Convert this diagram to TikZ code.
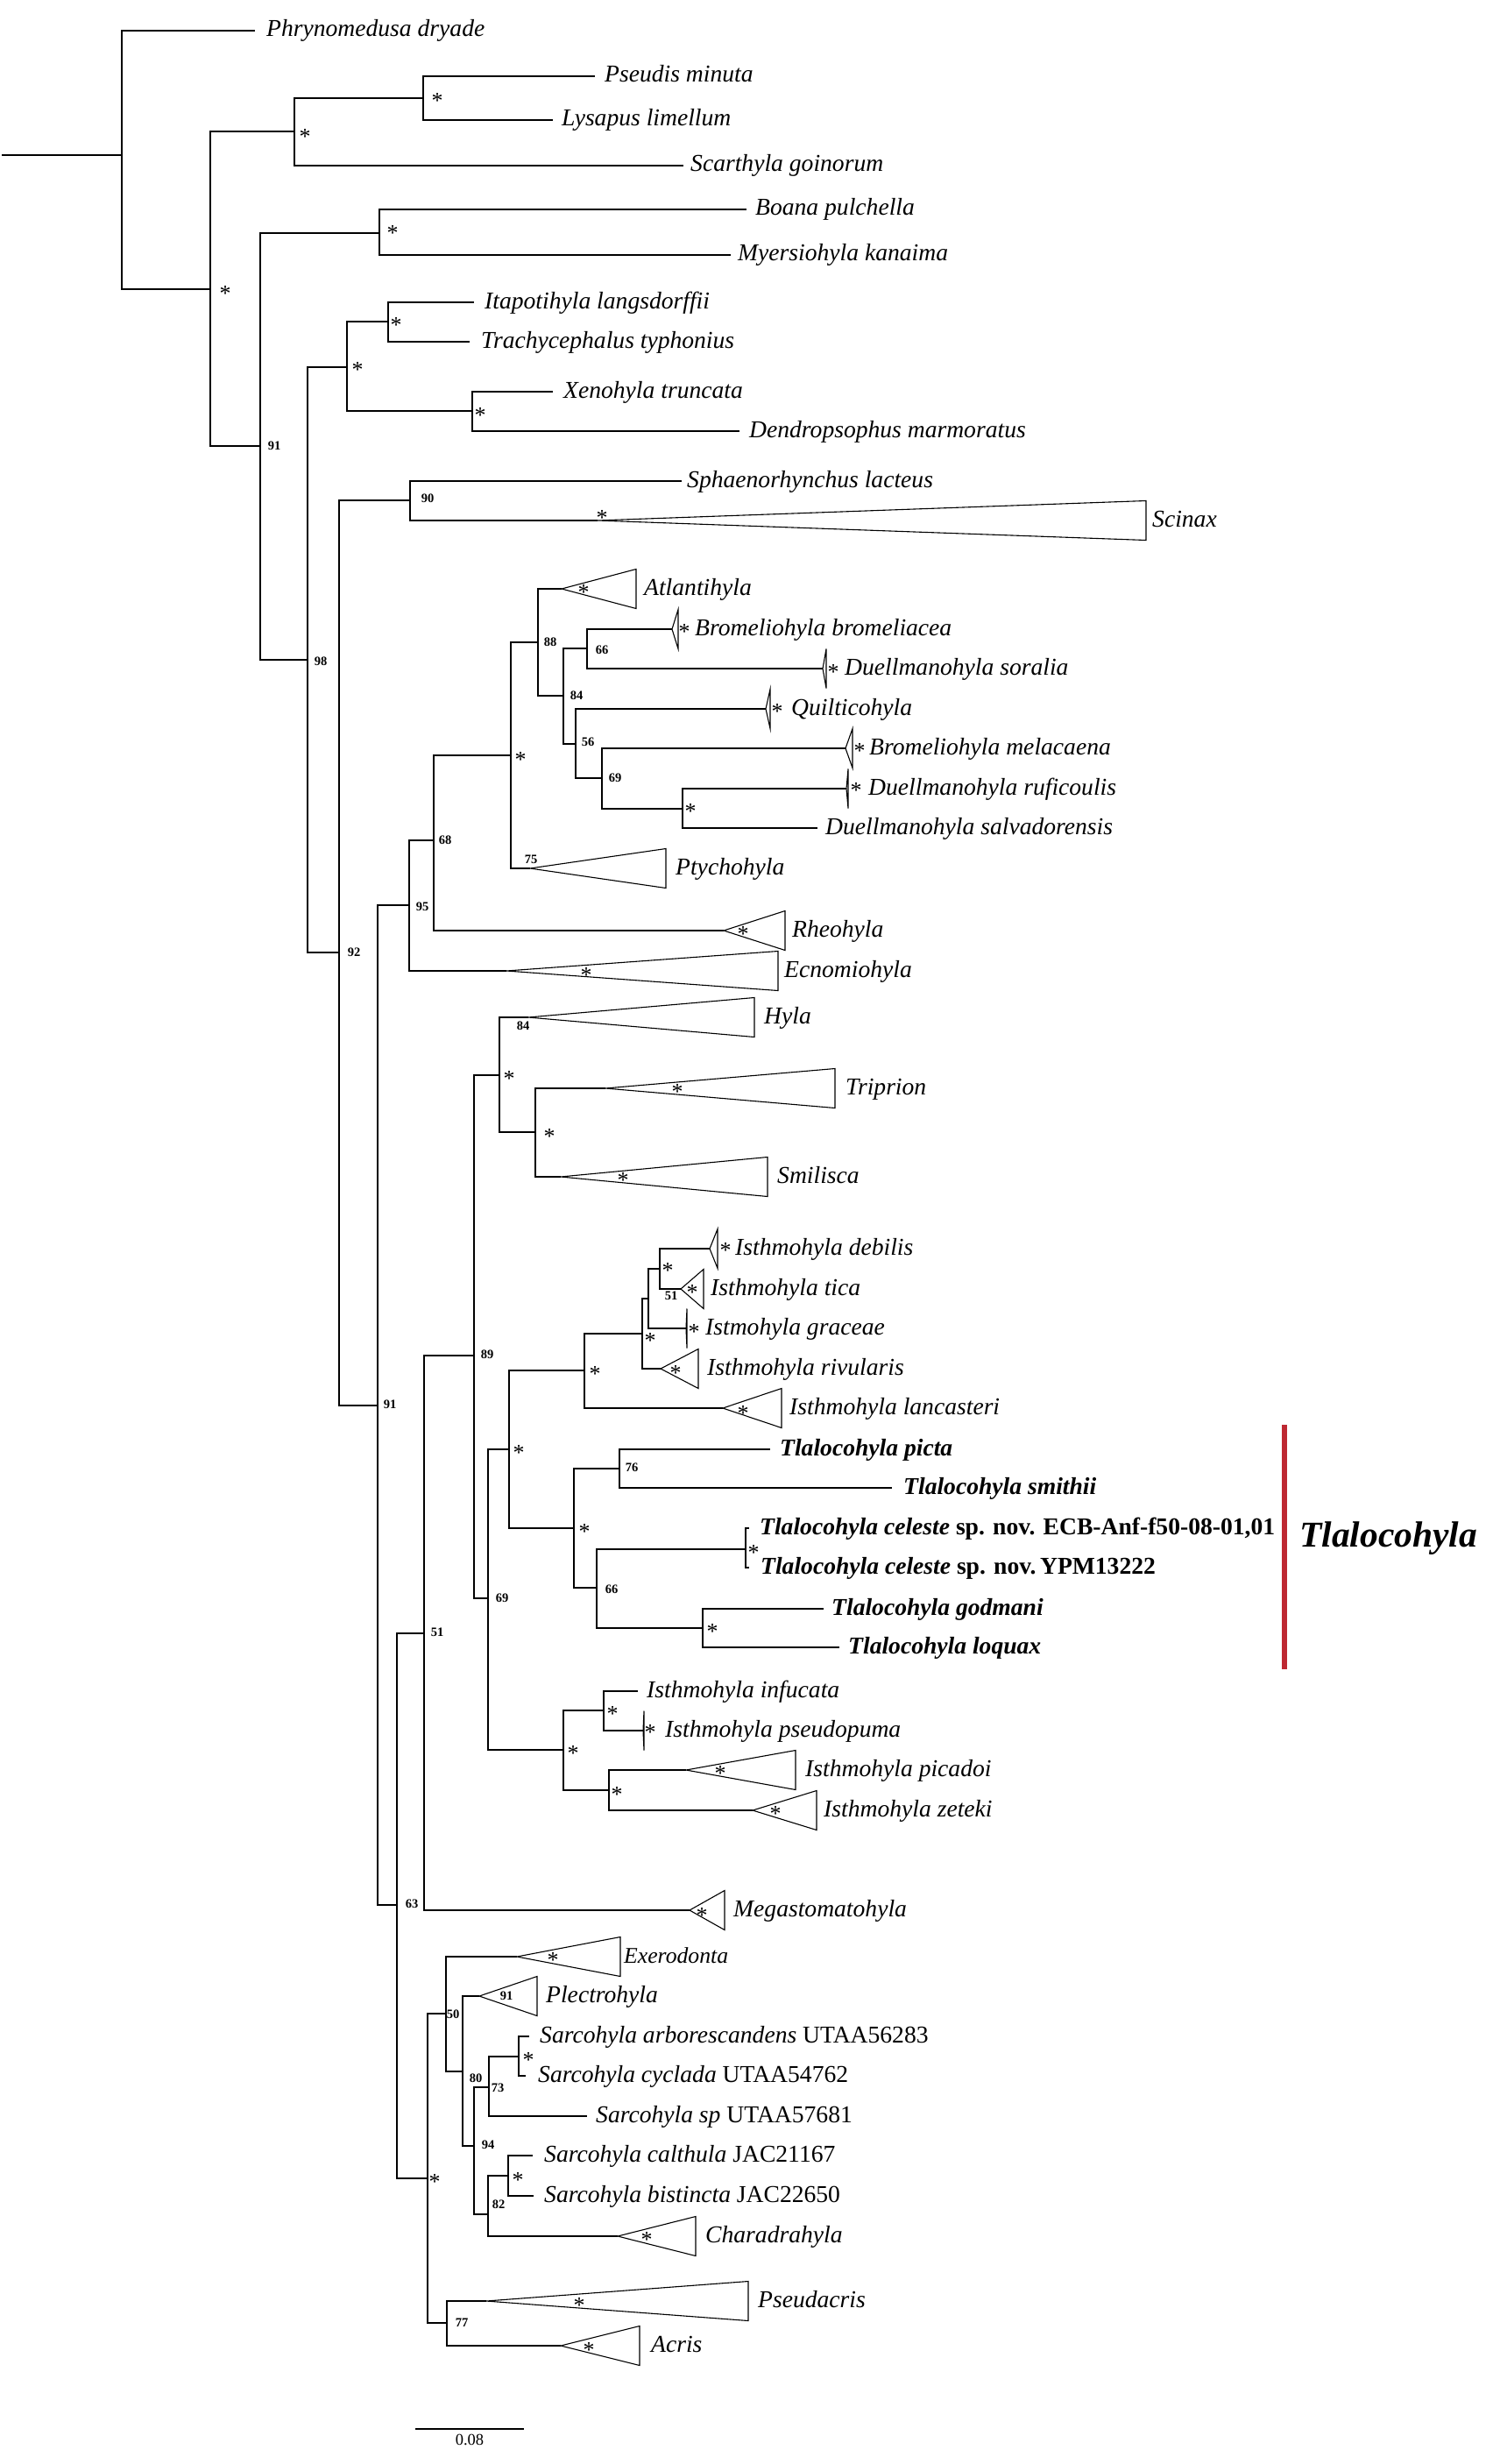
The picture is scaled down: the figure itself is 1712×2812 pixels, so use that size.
\documentclass[tikz,border=0pt]{standalone}
\usepackage{fontspec}
\setmainfont{Liberation Serif}
\definecolor{tlred}{RGB}{190,40,50}
\tikzset{
  br/.style={draw=black, line width=1.4pt},
  brthick/.style={draw=black, line width=2.8pt},
  tri/.style={draw=black, line width=1.1pt, line join=miter},
  lab/.style={anchor=base west, inner sep=0pt, font=\fontsize{27.6}{32}\selectfont\itshape},
  labs/.style={anchor=base west, inner sep=0pt, font=\fontsize{25.7}{30}\selectfont\itshape},
  labb/.style={anchor=base west, inner sep=0pt, font=\fontsize{27.6}{32}\selectfont\bfseries\itshape},
  ast/.style={anchor=base, inner sep=0pt, font=\fontsize{26}{28}\selectfont},
  bsv/.style={anchor=center, inner sep=0pt, font=\fontsize{14.5}{16}\selectfont\bfseries},
  big/.style={anchor=base west, inner sep=0pt, font=\fontsize{41.5}{46}\selectfont\bfseries\itshape},
}
\newcommand{\Tip}[6][lab]{\coordinate (#2) at (#3,#4);\node[#1] (#2L) at (#5,#4+7) {#6};}
\newcommand{\Clade}[7][lab]{\coordinate (#2) at (#3,#4);
  \draw[tri] (#2) -- (#5,#4-22.5) -- (#5,#4+22.5) -- cycle;
  \node[#1] (#2L) at (#6,#4+7) {#7};}
\newcommand{\Ast}[3]{\node[ast] (#1) at (#2,#3+12) {*};}
\newcommand{\Bv}[4]{\node[bsv] (#1) at (#2,#3) {#4};}
\begin{document}
\begin{tikzpicture}[x=1pt,y=-1pt]
\useasboundingbox (0,0) rectangle (1712,2812);
\fill[white] (0,0) rectangle (1712,2812);

% ---------- internal nodes ----------
\coordinate (stem) at (2,177);
\coordinate (R) at (139,177);
\coordinate (n1) at (240,330);
\coordinate (nA) at (336,150);
\coordinate (nPL) at (483,112);
\coordinate (n91a) at (297,509);
\coordinate (nBM) at (433,266);
\coordinate (n98) at (351,753);
\coordinate (nIT) at (396,419);
\coordinate (nIT2) at (443,367);
\coordinate (nXD) at (539,469);
\coordinate (n92) at (387,1087);
\coordinate (n90) at (468,571);
\coordinate (n91b) at (431,1604);
\coordinate (n95) at (467,1033);
\coordinate (n68) at (495,959);
\coordinate (nS1) at (583,862);
\coordinate (n88) at (614,733);
\coordinate (n84) at (643,794);
\coordinate (n66a) at (670,740);
\coordinate (n56) at (657,849);
\coordinate (n69a) at (687,888);
\coordinate (nDu) at (779,923);
\coordinate (n63) at (453,2174);
\coordinate (n51) at (484,1864);
\coordinate (n89) at (541,1547);
\coordinate (nHTS) at (570,1227);
\coordinate (nTS) at (611,1292);
\coordinate (n69b) at (557,1824);
\coordinate (nIT3) at (581,1654);
\coordinate (nIsth) at (667,1564);
\coordinate (nI2) at (733,1522);
\coordinate (nI3) at (740,1482);
\coordinate (nDT) at (753,1448);
\coordinate (nTla) at (655,1744);
\coordinate (n76) at (707,1676);
\coordinate (n66b) at (681,1812);
\coordinate (nCel) at (851,1768);
\coordinate (nGL) at (802,1858);
\coordinate (nPZ) at (643,1997);
\coordinate (nIP) at (689,1952);
\coordinate (nPZ2) at (695,2043);
\coordinate (nLow) at (488,2486);
\coordinate (n50) at (509,2298);
\coordinate (n80) at (528,2364);
\coordinate (n94) at (541,2449);
\coordinate (n73) at (558,2382);
\coordinate (nSA) at (592,2347);
\coordinate (n82) at (557,2527);
\coordinate (nSC) at (580,2483);
\coordinate (n77) at (510,2651);

% ---------- tips ----------
\Tip{Phr}{291}{35}{304}{Phrynomedusa dryade}
\Tip{Pse}{679}{87}{690}{Pseudis minuta}
\Tip{Lys}{631}{137}{641}{Lysapus limellum}
\Tip{Sca}{780}{189}{788}{Scarthyla goinorum}
\Tip{Boa}{852}{239}{862}{Boana pulchella}
\Tip{Mye}{834}{291}{842}{Myersiohyla kanaima}
\Tip{Ita}{541}{345}{553}{Itapotihyla langsdorffii}
\Tip{Tra}{536}{390}{549}{Trachycephalus typhonius}
\Tip{Xen}{631}{447}{643}{Xenohyla truncata}
\Tip{Den}{844}{492}{855}{Dendropsophus marmoratus}
\Tip{Sph}{778}{549}{784}{Sphaenorhynchus lacteus}
\Tip{Dsa}{933}{945}{942}{Duellmanohyla salvadorensis}
\Tip[labb]{Pic}{879}{1654}{890}{Tlalocohyla picta}
\Tip[labb]{Smt}{1018}{1698}{1031}{Tlalocohyla smithii}
\Tip[labb]{Ce1}{855}{1744}{867}{Tlalocohyla celeste {\upshape sp. nov. ECB-Anf-f50-08-01,01}}
\Tip[labb]{Ce2}{855}{1789}{868}{Tlalocohyla celeste {\upshape sp. nov.\,YPM13222}}
\Tip[labb]{God}{940}{1836}{949}{Tlalocohyla godmani}
\Tip[labb]{Loq}{958}{1880}{968}{Tlalocohyla loquax}
\Tip{Inf}{728}{1930}{738}{Isthmohyla infucata}
\Tip{Sar}{604}{2324}{616}{Sarcohyla arborescandens {\upshape UTAA56283}}
\Tip{Scy}{600}{2369}{614}{Sarcohyla cyclada {\upshape UTAA54762}}
\Tip{Ssp}{670}{2415}{680}{Sarcohyla sp {\upshape UTAA57681}}
\Tip{Scal}{608}{2460}{621}{Sarcohyla calthula {\upshape JAC21167}}
\Tip{Sbi}{609}{2506}{621}{Sarcohyla bistincta {\upshape JAC22650}}

% ---------- collapsed clades ----------
\Clade{Sci}{682}{594}{1308}{1315}{Scinax}
\Clade{Atl}{641}{672}{726}{735}{Atlantihyla}
\Clade{Bbr}{767}{718}{774}{793}{Bromeliohyla bromeliacea}
\Clade{Dso}{939}{763}{943}{964}{Duellmanohyla soralia}
\Clade{Qui}{874}{809}{879}{903}{Quilticohyla}
\Clade{Bme}{965}{854}{973}{992}{Bromeliohyla melacaena}
\Clade{Dru}{966}{900}{968}{991}{Duellmanohyla ruficoulis}
\Clade{Pty}{605}{991}{760}{771}{Ptychohyla}
\Clade{Rhe}{826}{1062}{896}{904}{Rheohyla}
\Clade{Ecn}{578}{1108}{888}{895}{Ecnomiohyla}
\Clade{Hyl}{603}{1161}{861}{872}{Hyla}
\Clade{Tri}{691}{1242}{953}{965}{Triprion}
\Clade{Smi}{640}{1343}{876}{887}{Smilisca}
\Clade{Deb}{810}{1425}{819}{839}{Isthmohyla debilis}
\Clade{Tic}{777}{1471}{803}{811}{Isthmohyla tica}
\Clade{Gra}{783}{1516}{784}{805}{Istmohyla graceae}
\Clade{Riv}{754}{1562}{797}{807}{Isthmohyla rivularis}
\Clade{Lan}{825}{1607}{892}{901}{Isthmohyla lancasteri}
\Clade{Psp}{734}{1975}{735}{759}{Isthmohyla pseudopuma}
\Clade{Pica}{783}{2020}{908}{919}{Isthmohyla picadoi}
\Clade{Zet}{859}{2066}{932}{940}{Isthmohyla zeteki}
\Clade{Meg}{787}{2180}{827}{837}{Megastomatohyla}
\Clade[labs]{Exe}{590}{2233}{708}{712}{Exerodonta}
\Clade{Ple}{547}{2278}{613}{623}{Plectrohyla}
\Clade{Cha}{705}{2552}{794}{805}{Charadrahyla}
\Clade{Pac}{555}{2626}{854}{865}{Pseudacris}
\Clade{Acr}{640}{2677}{730}{743}{Acris}

% ---------- branches ----------
\draw[br] (stem) -- (R);
\draw[br] (R) |- (Phr); \draw[br] (R) |- (n1);
\draw[br] (n1) |- (nA); \draw[br] (n1) |- (n91a);
\draw[br] (nA) |- (nPL); \draw[br] (nA) |- (Sca);
\draw[br] (nPL) |- (Pse); \draw[brthick] (nPL |- Pse) -- (Pse);
\draw[br] (nPL) |- (Lys);
\draw[br] (n91a) |- (nBM); \draw[br] (n91a) |- (n98);
\draw[br] (nBM) |- (Boa); \draw[br] (nBM) |- (Mye);
\draw[br] (n98) |- (nIT); \draw[br] (n98) |- (n92);
\draw[br] (nIT) |- (nIT2); \draw[br] (nIT) |- (nXD);
\draw[br] (nIT2) |- (Ita); \draw[br] (nIT2) |- (Tra);
\draw[br] (nXD) |- (Xen); \draw[br] (nXD) |- (Den);
\draw[br] (n92) |- (n90); \draw[br] (n92) |- (n91b);
\draw[br] (n90) |- (Sph); \draw[br] (n90) |- (Sci);
\draw[br] (n91b) |- (n95); \draw[br] (n91b) |- (n63);
\draw[br] (n95) |- (n68); \draw[br] (n95) |- (Ecn);
\draw[br] (n68) |- (nS1); \draw[br] (n68) |- (Rhe);
\draw[br] (nS1) |- (n88); \draw[br] (nS1) |- (Pty);
\draw[br] (n88) |- (Atl); \draw[br] (n88) |- (n84);
\draw[br] (n84) |- (n66a); \draw[br] (n84) |- (n56);
\draw[br] (n66a) |- (Bbr); \draw[br] (n66a) |- (Dso);
\draw[br] (n56) |- (Qui); \draw[br] (n56) |- (n69a);
\draw[br] (n69a) |- (Bme); \draw[br] (n69a) |- (nDu);
\draw[br] (nDu) |- (Dru); \draw[br] (nDu) |- (Dsa);
\draw[br] (n63) |- (n51); \draw[br] (n63) |- (nLow);
\draw[br] (n51) |- (n89); \draw[br] (n51) |- (Meg);
\draw[br] (n89) |- (nHTS); \draw[br] (n89) |- (n69b);
\draw[br] (nHTS) |- (Hyl); \draw[br] (nHTS) |- (nTS);
\draw[br] (nTS) |- (Tri); \draw[br] (nTS) |- (Smi);
\draw[br] (n69b) |- (nIT3); \draw[br] (n69b) |- (nPZ);
\draw[br] (nIT3) |- (nIsth); \draw[br] (nIT3) |- (nTla);
\draw[br] (nIsth) |- (nI2); \draw[br] (nIsth) |- (Lan);
\draw[br] (nI2) |- (nI3); \draw[br] (nI2) |- (Riv);
\draw[br] (nI3) |- (nDT); \draw[br] (nI3) |- (Gra);
\draw[br] (nDT) |- (Deb); \draw[br] (nDT) |- (Tic);
\draw[br] (nTla) |- (n76); \draw[br] (nTla) |- (n66b);
\draw[br] (n76) |- (Pic); \draw[br] (n76) |- (Smt);
\draw[br] (n66b) |- (nCel); \draw[br] (n66b) |- (nGL);
\draw[tri] (nCel) |- (Ce1); \draw[tri] (nCel) |- (Ce2);
\draw[br] (nGL) |- (God); \draw[br] (nGL) |- (Loq);
\draw[br] (nPZ) |- (nIP); \draw[br] (nPZ) |- (nPZ2);
\draw[br] (nIP) |- (Inf); \draw[br] (nIP) |- (Psp);
\draw[br] (nPZ2) |- (Pica); \draw[br] (nPZ2) |- (Zet);
\draw[br] (nLow) |- (n50); \draw[br] (nLow) |- (n77);
\draw[br] (n50) |- (Exe); \draw[br] (n50) |- (n80);
\draw[br] (n80) |- (Ple); \draw[br] (n80) |- (n94);
\draw[br] (n94) |- (n73); \draw[br] (n94) |- (n82);
\draw[br] (n73) |- (nSA); \draw[br] (n73) |- (Ssp);
\draw[br] (nSA) |- (Sar); \draw[br] (nSA) |- (Scy);
\draw[br] (n82) |- (nSC); \draw[br] (n82) |- (Cha);
\draw[br] (nSC) |- (Scal); \draw[br] (nSC) |- (Sbi);
\draw[br] (n77) |- (Pac); \draw[br] (n77) |- (Acr);

% ---------- support: asterisks ----------
\Ast{a1}{257}{331} \Ast{a2}{348}{153} \Ast{a3}{499}{112} \Ast{a4}{448}{263}
\Ast{a5}{408}{418} \Ast{a6}{452}{367} \Ast{a7}{548}{470} \Ast{a8}{687}{587}
\Ast{a9}{594}{863} \Ast{a10}{666}{672} \Ast{a11}{781}{717} \Ast{a12}{788}{922}
\Ast{a13}{951}{763} \Ast{a14}{887}{808} \Ast{a15}{981}{853} \Ast{a16}{977}{898}
\Ast{a17}{848}{1062} \Ast{a18}{669}{1109} \Ast{a19}{581}{1227} \Ast{a20}{773}{1242}
\Ast{a21}{627}{1293} \Ast{a22}{711}{1343} \Ast{a23}{828}{1423} \Ast{a24}{762}{1446}
\Ast{a25}{790}{1471} \Ast{a26}{792}{1516} \Ast{a27}{742}{1526} \Ast{a28}{771}{1563}
\Ast{a29}{679}{1564} \Ast{a30}{848}{1609} \Ast{a31}{592}{1654} \Ast{a32}{667}{1744}
\Ast{a33}{860}{1768} \Ast{a34}{813}{1858} \Ast{a35}{699}{1952} \Ast{a36}{742}{1973}
\Ast{a37}{654}{1997} \Ast{a38}{822}{2020} \Ast{a39}{704}{2044} \Ast{a40}{885}{2066}
\Ast{a41}{801}{2182} \Ast{a42}{631}{2233} \Ast{a43}{603}{2347} \Ast{a44}{496}{2486}
\Ast{a45}{591}{2484} \Ast{a46}{738}{2552} \Ast{a47}{661}{2627} \Ast{a48}{672}{2678}

% ---------- support: values ----------
\Bv{b1}{313}{509}{91} \Bv{b2}{366}{755}{98} \Bv{b3}{404}{1087}{92}
\Bv{b4}{488}{569}{90} \Bv{b5}{445}{1603}{91} \Bv{b6}{482}{1035}{95}
\Bv{b7}{508}{959}{68} \Bv{b8}{628}{733}{88} \Bv{b9}{658}{794}{84}
\Bv{b10}{687}{742}{66} \Bv{b11}{671}{847}{56} \Bv{b12}{702}{888}{69}
\Bv{b13}{606}{981}{75} \Bv{b14}{597}{1171}{84} \Bv{b15}{556}{1546}{89}
\Bv{b16}{499}{1863}{51} \Bv{b17}{470}{2173}{63} \Bv{b18}{573}{1824}{69}
\Bv{b19}{766}{1479}{51} \Bv{b20}{721}{1675}{76} \Bv{b21}{698}{1814}{66}
\Bv{b22}{517}{2299}{50} \Bv{b23}{543}{2372}{80} \Bv{b24}{578}{2278}{91}
\Bv{b25}{568}{2383}{73} \Bv{b26}{557}{2448}{94} \Bv{b27}{569}{2516}{82}
\Bv{b28}{527}{2651}{77}

% ---------- Tlalocohyla bar ----------
\coordinate (tlTop) at (1466,1626);
\coordinate (tlBot) at (1466,1905);
\draw[tlred, line width=5.5pt] (tlTop) -- (tlBot);
\node[big] (tlLab) at (1483,1765) {Tlalocohyla};

% ---------- scale bar ----------
\coordinate (sb1) at (474,2772);
\coordinate (sb2) at (598,2772);
\draw[line width=1.4pt] (sb1) -- (sb2);
\node[anchor=center, inner sep=0pt, font=\fontsize{18.5}{20}\selectfont] (sbL) at (536,2784) {0.08};
\end{tikzpicture}
\end{document}
